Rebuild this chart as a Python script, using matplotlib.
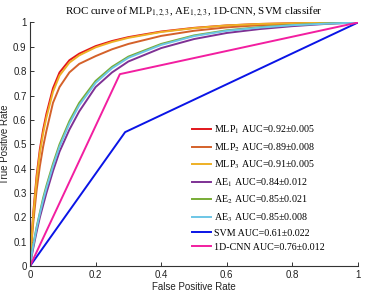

import matplotlib
matplotlib.use("Agg")
import matplotlib.pyplot as plt

plt.rcParams["mathtext.fontset"] = "stix"

fpr = [0, 0.005, 0.01, 0.02, 0.03, 0.04, 0.05, 0.07, 0.09, 0.12, 0.15,
       0.2, 0.25, 0.3, 0.4, 0.5, 0.6, 0.7, 0.8, 0.9, 1.0]

tpr_mlp1 = [0, 0.12, 0.22, 0.37, 0.48, 0.56, 0.625, 0.73, 0.795, 0.845, 0.872,
            0.903, 0.924, 0.94, 0.963, 0.978, 0.988, 0.994, 0.997, 0.999, 1]
tpr_mlp2 = [0, 0.10, 0.18, 0.31, 0.41, 0.49, 0.555, 0.67, 0.735, 0.795, 0.83,
            0.862, 0.89, 0.912, 0.945, 0.966, 0.98, 0.989, 0.994, 0.998, 1]
tpr_mlp3 = [0, 0.11, 0.21, 0.355, 0.465, 0.545, 0.61, 0.715, 0.782, 0.835,
            0.865, 0.898, 0.92, 0.937, 0.961, 0.977, 0.988, 0.994, 0.997,
            0.999, 1]
tpr_ae1 = [0, 0.04, 0.075, 0.14, 0.20, 0.25, 0.30, 0.39, 0.47, 0.56, 0.635,
           0.735, 0.795, 0.84, 0.895, 0.932, 0.957, 0.973, 0.985, 0.994, 1]
tpr_ae2 = [0, 0.05, 0.09, 0.16, 0.22, 0.28, 0.33, 0.42, 0.50, 0.595, 0.67,
           0.76, 0.818, 0.86, 0.912, 0.947, 0.968, 0.981, 0.99, 0.996, 1]
tpr_ae3 = [0, 0.048, 0.085, 0.155, 0.215, 0.27, 0.32, 0.41, 0.49, 0.585, 0.66,
           0.752, 0.812, 0.855, 0.908, 0.944, 0.966, 0.979, 0.989, 0.995, 1]

fpr_svm = [0, 0.29, 1]
tpr_svm = [0, 0.55, 1]
fpr_cnn = [0, 0.274, 1]
tpr_cnn = [0, 0.788, 1]

labels = [
    r"MLP$_1$ AUC=0.92±0.005",
    r"MLP$_2$ AUC=0.89±0.008",
    r"MLP$_3$ AUC=0.91±0.005",
    r"AE$_1$ AUC=0.84±0.012",
    r"AE$_2$ AUC=0.85±0.021",
    r"AE$_3$ AUC=0.85±0.008",
    "SVM AUC=0.61±0.022",
    "1D-CNN AUC=0.76±0.012",
]
colors = ["#e2161b", "#d4612a", "#eeb025", "#7e3194", "#78ac35", "#6cc6e6",
          "#0a14e6", "#f21ea0"]

fig = plt.figure(figsize=(3.66, 2.96), dpi=100)
ax = fig.add_axes([0.082, 0.101, 0.896, 0.823])

curves = [(fpr, tpr_mlp1), (fpr, tpr_mlp2), (fpr, tpr_mlp3),
          (fpr, tpr_ae1), (fpr, tpr_ae2), (fpr, tpr_ae3),
          (fpr_svm, tpr_svm), (fpr_cnn, tpr_cnn)]
for (x, y), c, lab in zip(curves, colors, labels):
    ax.plot(x, y, color=c, lw=1.4, label=lab)

ax.set_xlim(0, 1)
ax.set_ylim(0, 1)
ax.set_xticks([0, 0.2, 0.4, 0.6, 0.8, 1])
ax.set_xticklabels(["0", "0.2", "0.4", "0.6", "0.8", "1"])
ax.set_yticks([i / 10 for i in range(11)])
ax.set_yticklabels(["0"] + [f"{i / 10:g}" for i in range(1, 10)] + ["1"])
for s in ["top", "right"]:
    ax.spines[s].set_visible(False)
for s in ["left", "bottom"]:
    ax.spines[s].set_color("#333333")
    ax.spines[s].set_linewidth(0.8)
ax.tick_params(direction="in", length=3, width=0.7, labelsize=7, pad=2.5,
               colors="#333333", labelcolor="#222222")
for t in ax.get_xticklabels() + ax.get_yticklabels():
    t.set_family("Liberation Sans")

ax.set_xlabel("False Positive Rate", fontsize=7, family="Liberation Sans",
              labelpad=2, color="#222222")
ax.set_ylabel("True Positive Rate", fontsize=7, family="Liberation Sans",
              labelpad=2, color="#222222")
ax.set_title(r"ROC curve of MLP$_{1,2,3}$, AE$_{1,2,3}$, 1D-CNN, SVM classifer",
             fontsize=7.8, family="Liberation Serif", pad=6)

ax.legend(loc="upper left", bbox_to_anchor=(0.495, 0.585), frameon=False,
          prop={"family": "Liberation Serif", "size": 7.2},
          handlelength=1.9, handletextpad=0.3, labelspacing=0.5,
          borderpad=0, borderaxespad=0)

fig.savefig("out.png", dpi=100)
